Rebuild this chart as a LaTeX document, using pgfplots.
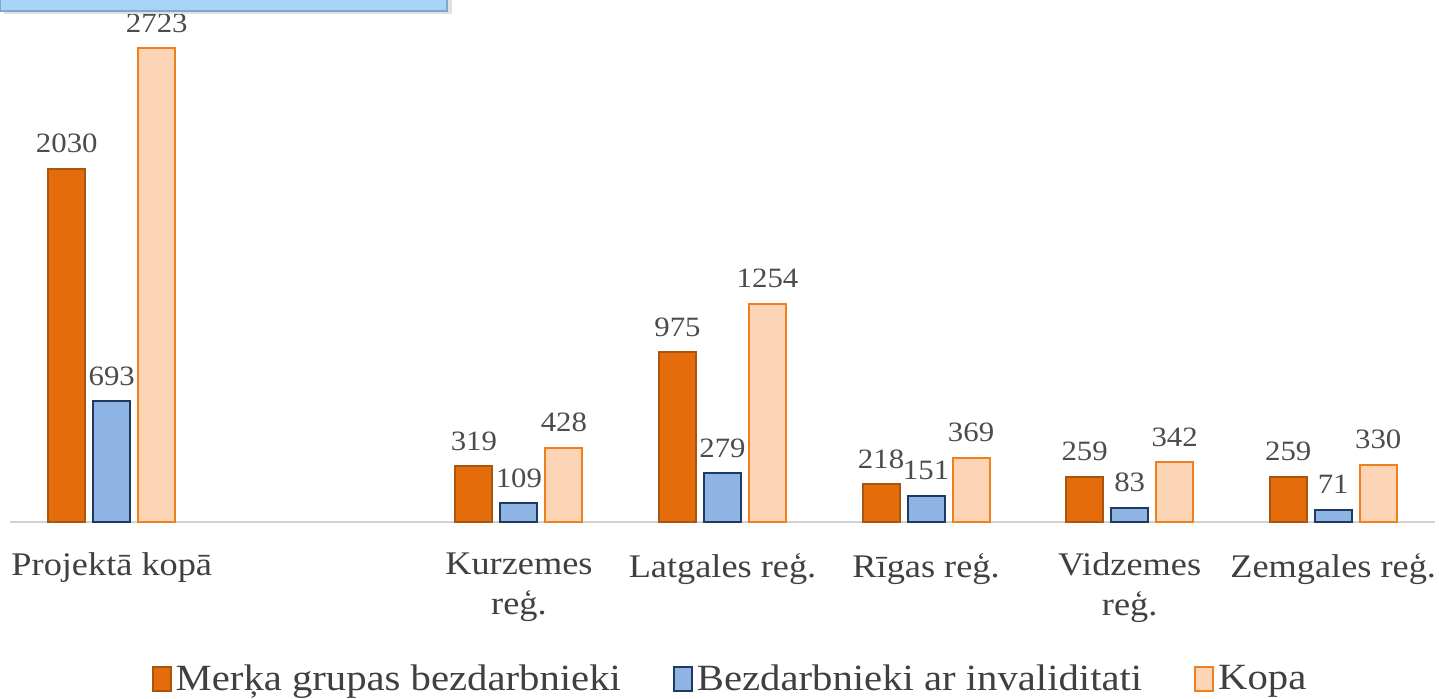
\documentclass[border=0pt]{standalone}
\usepackage{pgfplots}
\pgfplotsset{compat=1.18}
\usepackage{fontspec}
\setmainfont{Liberation Serif}[FakeStretch=1.1]
\definecolor{cOr}{HTML}{E46C0A}
\definecolor{cOrD}{HTML}{A85510}
\definecolor{cBl}{HTML}{8EB4E3}
\definecolor{cBlD}{HTML}{1F3A60}
\definecolor{cLt}{HTML}{FBD5B5}
\definecolor{cLtD}{HTML}{F07F1E}
\definecolor{cBox}{HTML}{A9D4FA}
\definecolor{cBoxD}{HTML}{7FA6CC}
\begin{document}
\begin{tikzpicture}
\begin{axis}[
  at={(0,0)}, anchor=south west,
  scale only axis,
  width=712.5pt, height=261pt,
  ymin=0, ymax=3000,
  xmin=-0.5, xmax=6.5,
  axis y line=none,
  axis x line*=bottom,
  x axis line style={draw=gray!35, line width=0.8pt},
  xtick={0,2,3,4,5,6},
  xticklabels={Projektā kopā, Kurzemes\\reģ., Latgales reģ., Rīgas reģ., Vidzemes\\reģ., Zemgales reģ.},
  major tick length=0pt,
  xticklabel style={align=center, font=\fontsize{16.5}{20}\selectfont, text=black!75, yshift=-12pt},
  ybar=4pt, bar width=18.5pt,
  /pgf/number format/1000 sep={},
  /pgf/number format/assume math mode=true,
  nodes near coords,
  every node near coord/.append style={font=\fontsize{14}{16}\selectfont, text=black!70, yshift=4pt},
  legend columns=3,
  legend style={at={(axis description cs:0.506,-0.301)}, anchor=center, draw=none,
    font=\fontsize{18.5}{21}\selectfont, text=black!75,
    /tikz/every even column/.append style={column sep=24pt}},
  legend image code/.code={\draw[#1, line width=1pt] (0pt,-6pt) rectangle (9pt,6pt);},
  clip=false,
]
\addplot[fill=cOr, draw=cOrD, line width=1pt] coordinates {(0,2030) (2,319) (3,975) (4,218) (5,259) (6,259)};
\addplot[fill=cBl, draw=cBlD, line width=1pt] coordinates {(0,693) (2,109) (3,279) (4,151) (5,83) (6,71)};
\addplot[fill=cLt, draw=cLtD, line width=1pt] coordinates {(0,2723) (2,428) (3,1254) (4,369) (5,342) (6,330)};
\legend{Merķa grupas bezdarbnieki, Bezdarbnieki ar invaliditati, Kopa}
\end{axis}
\fill[black!12] (-3pt,254pt) rectangle (221pt,262pt);
\filldraw[fill=cBox, draw=cBoxD, line width=0.8pt] (-5pt,255.5pt) rectangle (218.5pt,262pt);
\pgfresetboundingbox
\path[use as bounding box] (-5pt,-88.5pt) rectangle (714.5pt,261pt);
\end{tikzpicture}
\end{document}
